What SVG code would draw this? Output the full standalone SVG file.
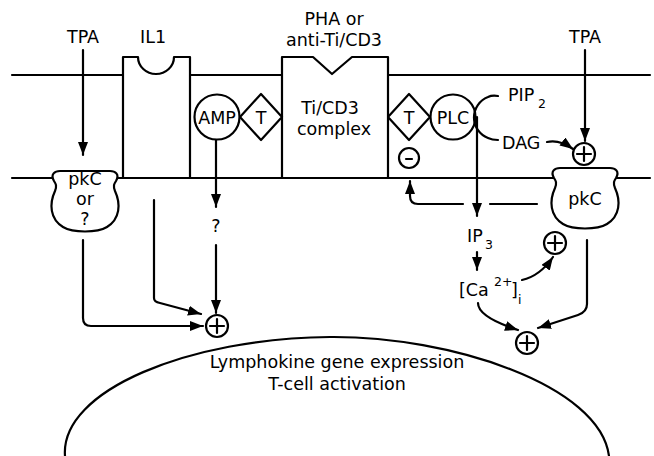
<svg xmlns="http://www.w3.org/2000/svg" width="654" height="456" viewBox="0 0 654 456">
<defs>
<style>
.ln{fill:none;stroke:#000;stroke-width:2.2;stroke-linecap:round;stroke-linejoin:round}
.sh{fill:#fff;stroke:#000;stroke-width:2.2;stroke-linejoin:round}
.t{font-family:"DejaVu Sans","Liberation Sans",Arial,sans-serif;font-size:17.5px;fill:#000}
.s{font-family:"DejaVu Sans","Liberation Sans",Arial,sans-serif;font-size:12.5px;fill:#000}
.m{text-anchor:middle}
</style>
<marker id="ah" markerUnits="userSpaceOnUse" markerWidth="14" markerHeight="10" refX="13" refY="5" orient="auto">
<path d="M0,0 L13,5 L0,10 Z" fill="#000"/>
</marker>
<g id="plus"><circle r="11" class="sh"/><path d="M-7,0 H7 M0,-7 V7" class="ln" stroke-width="1.8"/></g>
<path id="pot" d="M-31,10 C-35,3 -30,0 -25,0 L25,0 C30,0 35,3 31,10 C29,13 28,15 30,20 C36,33 35,48 22,56 C12,62 -12,62 -22,56 C-35,48 -36,33 -30,20 C-28,15 -29,13 -31,10 Z"/>
</defs>

<g id="membrane">
<line x1="12" y1="75" x2="650" y2="75" class="ln"/>
<line x1="12" y1="178" x2="650" y2="178" class="ln"/>
</g>

<g id="connectors">
<line x1="83" y1="50" x2="83" y2="155" class="ln" marker-end="url(#ah)"/>
<line x1="585" y1="50" x2="585" y2="141" class="ln" marker-end="url(#ah)"/>
<line x1="216" y1="139" x2="216" y2="207" class="ln" marker-end="url(#ah)"/>
<line x1="216" y1="245" x2="216" y2="313" class="ln" marker-end="url(#ah)"/>
<path d="M83,240 V318 Q83,326 91,326 H203" class="ln" marker-end="url(#ah)"/>
<path d="M154,200 V298 Q154,302 160,303 L201,314" class="ln" marker-end="url(#ah)"/>
<line x1="477" y1="117" x2="477" y2="216" class="ln" marker-end="url(#ah)"/>
<path d="M463,204 H418 Q410,204 410,196 V181" class="ln" marker-end="url(#ah)"/>
<line x1="490" y1="204" x2="537" y2="204" class="ln"/>
<path d="M547,142 Q559,139 573,149" class="ln" marker-end="url(#ah)"/>
<line x1="477" y1="252" x2="477" y2="270" class="ln" marker-end="url(#ah)"/>
<path d="M522,280 Q540,276 553,257" class="ln" marker-end="url(#ah)"/>
<path d="M478,303 Q478,317 518,330" class="ln" marker-end="url(#ah)"/>
<path d="M587,240 V304 Q587,312 578,315 L538,328" class="ln" marker-end="url(#ah)"/>
</g>

<g id="il1">
<path d="M123,178 V57 H138 A18,17 0 0 0 174,57 H190 V178 Z" class="sh"/>
<text x="153" y="43" class="t m">IL1</text>
</g>

<g id="ticd3">
<path d="M282,178 V57 H313 L332,74 L352,57 H388 V178 Z" class="sh"/>
<text x="334" y="25" class="t m">PHA or</text>
<text x="334" y="46" class="t m">anti-Ti/CD3</text>
<text x="330" y="114" class="t m">Ti/CD3</text>
<text x="334" y="135" class="t m">complex</text>
</g>

<g id="amp">
<circle cx="217" cy="117" r="22.5" class="sh"/>
<text x="217" y="124" class="t m">AMP</text>
</g>
<g id="t-left">
<path d="M240,117 L261,94 L282,117 L261,140 Z" class="sh"/>
<text x="261" y="124" class="t m">T</text>
</g>
<g id="t-right">
<path d="M388,117 L409,94 L430,117 L409,140 Z" class="sh"/>
<text x="409" y="124" class="t m">T</text>
</g>
<g id="minus">
<circle cx="409" cy="158" r="10" class="sh" stroke-width="1.8"/>
<line x1="406" y1="159" x2="412" y2="159" class="ln" stroke-width="2"/>
</g>
<g id="plc">
<circle cx="453" cy="117" r="22.5" class="sh"/>
<text x="453" y="124" class="t m">PLC</text>
</g>
<g id="pip2">
<path d="M498,96 Q492,95 488,97 A22,22 0 0 0 488,138 Q492,140 498,140" class="ln"/>
<text x="508" y="101" class="t">PIP</text>
<text x="538" y="108" class="s">2</text>
</g>
<g id="dag">
<text x="502" y="149" class="t">DAG</text>
</g>

<g id="tpa-left"><text x="83" y="43" class="t m">TPA</text></g>
<g id="tpa-right"><text x="585" y="43" class="t m">TPA</text></g>

<g id="pkc-left">
<use href="#pot" x="85" y="171" class="sh"/>
<text x="85" y="185" class="t m">pkC</text>
<text x="85" y="205" class="t m">or</text>
<text x="85" y="225" class="t m">?</text>
</g>
<g id="pkc-right">
<use href="#pot" x="585" y="168" class="sh"/>
<text x="585" y="205" class="t m">pkC</text>
</g>

<g id="q"><text x="216" y="232" class="t m">?</text></g>

<g id="plus-dag"><use href="#plus" x="584" y="154"/></g>
<g id="plus-left"><use href="#plus" x="217" y="326"/></g>
<g id="plus-ca"><use href="#plus" x="555" y="243"/></g>
<g id="plus-bottom"><use href="#plus" x="527" y="343"/></g>

<g id="ip3">
<text x="467" y="242" class="t">IP</text>
<text x="485" y="249" class="s">3</text>
</g>
<g id="ca">
<text x="459" y="296" class="t">[Ca</text>
<text x="494" y="286" class="s">2+</text>
<text x="511" y="296" class="t">]</text>
<text x="518" y="304" class="s">i</text>
</g>

<g id="nucleus">
<path d="M65,456 C60,390 190,338 330,337 C450,336 600,385 609,456" class="ln"/>
<text x="337" y="368" class="t m">Lymphokine gene expression</text>
<text x="337" y="390" class="t m">T-cell activation</text>
</g>
</svg>
